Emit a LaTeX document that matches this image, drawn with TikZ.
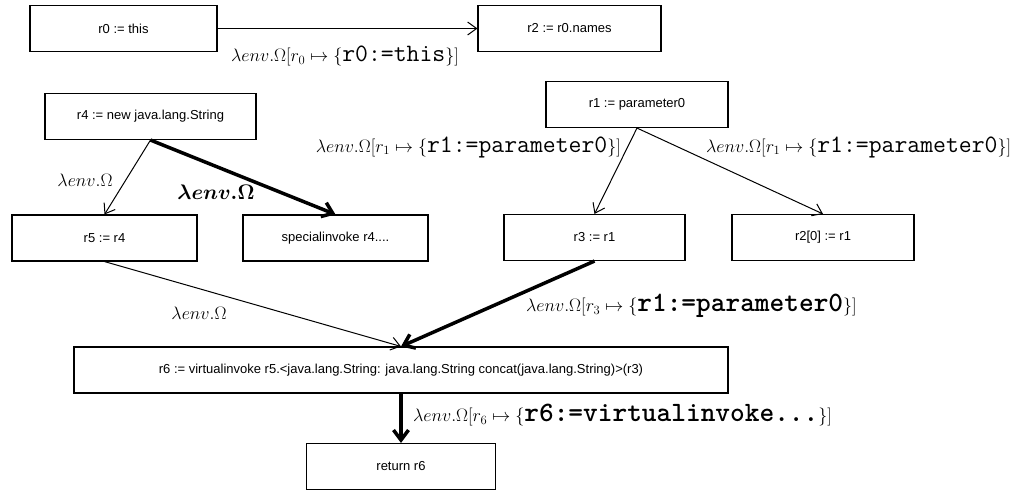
\documentclass[tikz,border=0pt]{standalone}
\usepackage{fix-cm}
\usepackage{bm}
\usepackage[no-math]{fontspec}
\setmainfont{Liberation Sans}
\usetikzlibrary{arrows.meta}
% typewriter pieces inside the edge formulas
\newcommand\code[1]{\mbox{\ttfamily\fontsize{25}{27}\selectfont #1}}
\newcommand\bcode[1]{\mbox{\ttfamily\bfseries\fontsize{28}{30}\selectfont #1}}
\tikzset{
  blk/.style={draw, line width=1.1pt, minimum height=46pt, inner sep=0pt,
    font=\fontsize{13}{15}\selectfont},
  lbl/.style={inner sep=0pt, font=\fontsize{18}{20}\selectfont},
  lite/.style={line width=1pt, -{Straight Barb[length=9pt,width=13pt]}},
  heavy/.style={line width=3.5pt, -{Straight Barb[length=10pt,width=15pt]}},
}
\begin{document}
\begin{tikzpicture}[x=1pt,y=-1pt]
\useasboundingbox[fill=white] (0,0) rectangle (1036,491);

% statements
\node[blk, minimum width=187pt] (r0)  at (123.5,28.5) {r0 := this};
\node[blk, minimum width=183pt] (r2)  at (569.5,28.5) {r2 := r0.names};
\node[blk, minimum width=211pt] (r4)  at (150.5,116.5) {r4 := new java.lang.String};
\node[blk, minimum width=182pt] (r1)  at (637,104.5) {r1 := parameter0};
\node[blk, minimum width=185pt] (r5)  at (104.5,238) {r5 := r4};
\node[blk, minimum width=185pt] (sp)  at (335.5,238) {specialinvoke r4....};
\node[blk, minimum width=181pt] (r3)  at (594.5,237.5) {r3 := r1};
\node[blk, minimum width=182pt] (r20) at (823,237.5) {r2[0] := r1};
\node[blk, minimum width=654pt] (r6)  at (401,370)
  {r6 := virtualinvoke r5.<java.lang.String: java.lang.String concat(java.lang.String)>(r3)};
\node[blk, minimum width=189pt] (ret) at (401,466.5) {return r6};

% flow edges
\draw[lite]  (r0) -- (r2);
\draw[lite]  (r4.south) -- (r5.north);
\draw[heavy] (r4.south) -- (sp.north);
\draw[lite]  (r1.south) -- (r3.north);
\draw[lite]  (r1.south) -- (r20.north);
\draw[lite]  (r5.south) -- (r6.north);
\draw[heavy] (r3.south) -- (r6.north);
\draw[heavy] (r6.south) -- (ret.north);

% edge environments
\node[lbl, anchor=west] (e0) at (231,56)
  {$\lambda env.\Omega[r_0\mapsto\{\code{r0:=this}\}]$};
\node[lbl, anchor=east] (e1) at (621,147)
  {$\lambda env.\Omega[r_1\mapsto\{\code{r1:=parameter0}\}]$};
\node[lbl, anchor=west] (e2) at (706,147)
  {$\lambda env.\Omega[r_1\mapsto\{\code{r1:=parameter0}\}]$};
\node[lbl] (e3) at (85,180) {$\lambda env.\Omega$};
\node[lbl, font=\fontsize{21}{23}\selectfont] (e4) at (216,192) {$\bm{\lambda env.\Omega}$};
\node[lbl] (e5) at (199,313) {$\lambda env.\Omega$};
\node[lbl, anchor=west] (e6) at (526,306)
  {$\lambda env.\Omega[r_3\mapsto\{\bcode{r1:=parameter0}\}]$};
\node[lbl, anchor=west] (e7) at (413,415)
  {$\lambda env.\Omega[r_6\mapsto\{\bcode{r6:=virtualinvoke...}\}]$};
\end{tikzpicture}
\end{document}
